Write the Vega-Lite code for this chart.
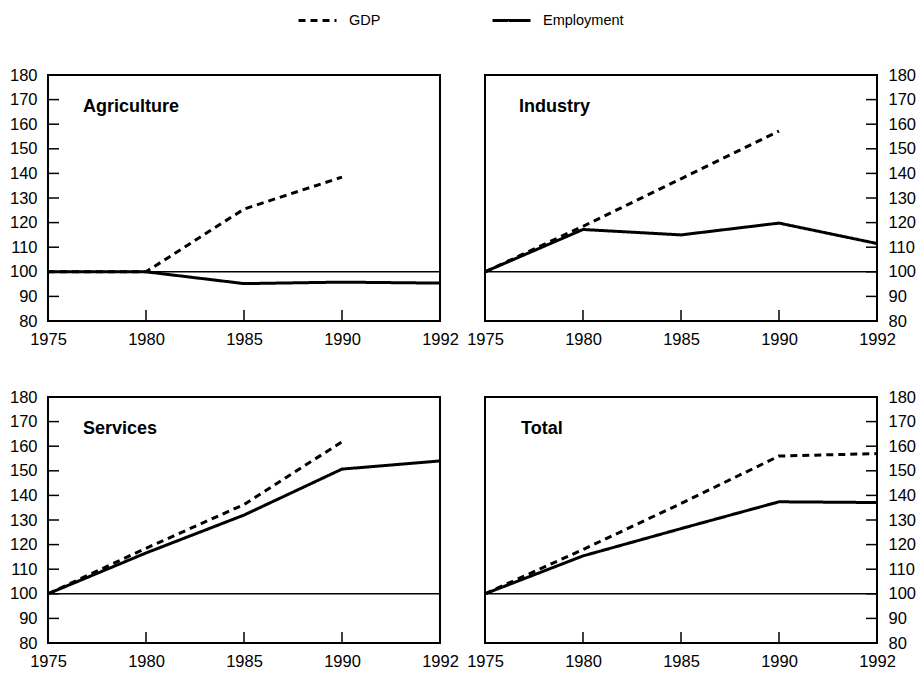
{
  "$schema": "https://vega.github.io/schema/vega-lite/v6.json",
  "padding": {"left": 8, "top": 0, "right": 5, "bottom": 2},
  "background": "white",
  "datasets": {"yticks": [{"v": 90}, {"v": 100}, {"v": 110}, {"v": 120}, {"v": 130}, {"v": 140}, {"v": 150}, {"v": 160}, {"v": 170}]},
  "data": {"values": [
    {"sector": "Agriculture", "series": "GDP", "year": 1975, "value": 100},
    {"sector": "Agriculture", "series": "GDP", "year": 1980, "value": 100},
    {"sector": "Agriculture", "series": "GDP", "year": 1985, "value": 125.5},
    {"sector": "Agriculture", "series": "GDP", "year": 1990, "value": 138.5},
    {"sector": "Agriculture", "series": "Employment", "year": 1975, "value": 100},
    {"sector": "Agriculture", "series": "Employment", "year": 1980, "value": 100},
    {"sector": "Agriculture", "series": "Employment", "year": 1985, "value": 95.2},
    {"sector": "Agriculture", "series": "Employment", "year": 1990, "value": 95.8},
    {"sector": "Agriculture", "series": "Employment", "year": 1992, "value": 95.4},
    {"sector": "Industry", "series": "GDP", "year": 1975, "value": 100},
    {"sector": "Industry", "series": "GDP", "year": 1980, "value": 118.5},
    {"sector": "Industry", "series": "GDP", "year": 1985, "value": 137.8},
    {"sector": "Industry", "series": "GDP", "year": 1990, "value": 157.2},
    {"sector": "Industry", "series": "Employment", "year": 1975, "value": 100},
    {"sector": "Industry", "series": "Employment", "year": 1980, "value": 117.2},
    {"sector": "Industry", "series": "Employment", "year": 1985, "value": 115},
    {"sector": "Industry", "series": "Employment", "year": 1990, "value": 119.8},
    {"sector": "Industry", "series": "Employment", "year": 1992, "value": 111.5},
    {"sector": "Services", "series": "GDP", "year": 1975, "value": 100},
    {"sector": "Services", "series": "GDP", "year": 1980, "value": 118.5},
    {"sector": "Services", "series": "GDP", "year": 1985, "value": 136.3},
    {"sector": "Services", "series": "GDP", "year": 1990, "value": 161.8},
    {"sector": "Services", "series": "Employment", "year": 1975, "value": 100},
    {"sector": "Services", "series": "Employment", "year": 1980, "value": 116.6},
    {"sector": "Services", "series": "Employment", "year": 1985, "value": 132},
    {"sector": "Services", "series": "Employment", "year": 1990, "value": 150.7},
    {"sector": "Services", "series": "Employment", "year": 1992, "value": 154},
    {"sector": "Total", "series": "GDP", "year": 1975, "value": 100},
    {"sector": "Total", "series": "GDP", "year": 1980, "value": 118},
    {"sector": "Total", "series": "GDP", "year": 1985, "value": 136.7},
    {"sector": "Total", "series": "GDP", "year": 1990, "value": 156},
    {"sector": "Total", "series": "GDP", "year": 1992, "value": 157},
    {"sector": "Total", "series": "Employment", "year": 1975, "value": 100},
    {"sector": "Total", "series": "Employment", "year": 1980, "value": 115.4},
    {"sector": "Total", "series": "Employment", "year": 1985, "value": 126.5},
    {"sector": "Total", "series": "Employment", "year": 1990, "value": 137.4},
    {"sector": "Total", "series": "Employment", "year": 1992, "value": 137.1}
  ]},
  "columns": 2,
  "spacing": {"row": 76, "column": 45},
  "bounds": "flush",
  "concat": [
    {
      "width": 392, "height": 246,
      "layer": [
        {"transform": [{"filter": "datum.sector === 'Agriculture'"}],
         "mark": {"type": "line", "color": "black", "strokeWidth": 3},
         "encoding": {
           "x": {"field": "year", "type": "ordinal", "scale": {"type": "point", "padding": 0}, "axis": {"orient": "bottom"}},
           "y": {"field": "value", "type": "quantitative", "scale": {"domain": [80, 180], "zero": false}, "axis": {"orient": "left", "values": [80, 90, 100, 110, 120, 130, 140, 150, 160, 170, 180]}},
           "strokeDash": {"field": "series", "type": "nominal", "scale": {"domain": ["GDP", "Employment"], "range": [[7, 5], [1, 0]]}, "legend": {"title": null}}
         }},
        {"data": {"values": [{}]}, "mark": {"type": "rule", "color": "black", "strokeWidth": 1.5},
         "encoding": {"y": {"datum": 100, "type": "quantitative", "axis": {"orient": "left", "values": [80, 90, 100, 110, 120, 130, 140, 150, 160, 170, 180]}}}},
        {"transform": [{"filter": "datum.sector === 'Agriculture' && datum.series === 'Employment'"}],
         "mark": {"type": "rule", "color": "black", "strokeWidth": 1.5, "y2Offset": -11},
         "encoding": {"x": {"field": "year", "type": "ordinal", "axis": {"orient": "bottom"}}, "y": {"datum": 80, "type": "quantitative", "axis": {"orient": "left", "values": [80, 90, 100, 110, 120, 130, 140, 150, 160, 170, 180]}}, "y2": {"datum": 80}}},
        {"data": {"name": "yticks"},
         "mark": {"type": "rule", "color": "black", "strokeWidth": 1.5, "x2Offset": 11},
         "encoding": {"x": {"datum": 1975, "type": "ordinal", "axis": {"orient": "bottom"}}, "x2": {"datum": 1975}, "y": {"field": "v", "type": "quantitative", "axis": {"orient": "left", "values": [80, 90, 100, 110, 120, 130, 140, 150, 160, 170, 180]}}}},
        {"data": {"values": [{}]}, "mark": {"type": "text", "align": "left", "baseline": "middle", "dx": 35, "fontSize": 18, "fontWeight": "bold", "font": "Liberation Sans", "color": "black", "text": "Agriculture"},
         "encoding": {"x": {"datum": 1975, "type": "ordinal", "axis": {"orient": "bottom"}}, "y": {"datum": 167, "type": "quantitative", "axis": {"orient": "left", "values": [80, 90, 100, 110, 120, 130, 140, 150, 160, 170, 180]}}}}
      ]
    },
    {
      "width": 392, "height": 246,
      "layer": [
        {"transform": [{"filter": "datum.sector === 'Industry'"}],
         "mark": {"type": "line", "color": "black", "strokeWidth": 3},
         "encoding": {
           "x": {"field": "year", "type": "ordinal", "scale": {"type": "point", "padding": 0}, "axis": {"orient": "bottom"}},
           "y": {"field": "value", "type": "quantitative", "scale": {"domain": [80, 180], "zero": false}, "axis": {"orient": "right", "labelAlign": "left", "values": [80, 90, 100, 110, 120, 130, 140, 150, 160, 170, 180]}},
           "strokeDash": {"field": "series", "type": "nominal", "scale": {"domain": ["GDP", "Employment"], "range": [[7, 5], [1, 0]]}, "legend": {"title": null}}
         }},
        {"data": {"values": [{}]}, "mark": {"type": "rule", "color": "black", "strokeWidth": 1.5},
         "encoding": {"y": {"datum": 100, "type": "quantitative", "axis": {"orient": "right", "labelAlign": "left", "values": [80, 90, 100, 110, 120, 130, 140, 150, 160, 170, 180]}}}},
        {"transform": [{"filter": "datum.sector === 'Industry' && datum.series === 'Employment'"}],
         "mark": {"type": "rule", "color": "black", "strokeWidth": 1.5, "y2Offset": -11},
         "encoding": {"x": {"field": "year", "type": "ordinal", "axis": {"orient": "bottom"}}, "y": {"datum": 80, "type": "quantitative", "axis": {"orient": "right", "labelAlign": "left", "values": [80, 90, 100, 110, 120, 130, 140, 150, 160, 170, 180]}}, "y2": {"datum": 80}}},
        {"data": {"name": "yticks"},
         "mark": {"type": "rule", "color": "black", "strokeWidth": 1.5, "x2Offset": -11},
         "encoding": {"x": {"datum": 1992, "type": "ordinal", "axis": {"orient": "bottom"}}, "x2": {"datum": 1992}, "y": {"field": "v", "type": "quantitative", "axis": {"orient": "right", "labelAlign": "left", "values": [80, 90, 100, 110, 120, 130, 140, 150, 160, 170, 180]}}}},
        {"data": {"values": [{}]}, "mark": {"type": "text", "align": "left", "baseline": "middle", "dx": 34, "fontSize": 18, "fontWeight": "bold", "font": "Liberation Sans", "color": "black", "text": "Industry"},
         "encoding": {"x": {"datum": 1975, "type": "ordinal", "axis": {"orient": "bottom"}}, "y": {"datum": 167, "type": "quantitative", "axis": {"orient": "right", "labelAlign": "left", "values": [80, 90, 100, 110, 120, 130, 140, 150, 160, 170, 180]}}}}
      ]
    },
    {
      "width": 392, "height": 246,
      "layer": [
        {"transform": [{"filter": "datum.sector === 'Services'"}],
         "mark": {"type": "line", "color": "black", "strokeWidth": 3},
         "encoding": {
           "x": {"field": "year", "type": "ordinal", "scale": {"type": "point", "padding": 0}, "axis": {"orient": "bottom"}},
           "y": {"field": "value", "type": "quantitative", "scale": {"domain": [80, 180], "zero": false}, "axis": {"orient": "left", "values": [80, 90, 100, 110, 120, 130, 140, 150, 160, 170, 180]}},
           "strokeDash": {"field": "series", "type": "nominal", "scale": {"domain": ["GDP", "Employment"], "range": [[7, 5], [1, 0]]}, "legend": {"title": null}}
         }},
        {"data": {"values": [{}]}, "mark": {"type": "rule", "color": "black", "strokeWidth": 1.5},
         "encoding": {"y": {"datum": 100, "type": "quantitative", "axis": {"orient": "left", "values": [80, 90, 100, 110, 120, 130, 140, 150, 160, 170, 180]}}}},
        {"transform": [{"filter": "datum.sector === 'Services' && datum.series === 'Employment'"}],
         "mark": {"type": "rule", "color": "black", "strokeWidth": 1.5, "y2Offset": -11},
         "encoding": {"x": {"field": "year", "type": "ordinal", "axis": {"orient": "bottom"}}, "y": {"datum": 80, "type": "quantitative", "axis": {"orient": "left", "values": [80, 90, 100, 110, 120, 130, 140, 150, 160, 170, 180]}}, "y2": {"datum": 80}}},
        {"data": {"name": "yticks"},
         "mark": {"type": "rule", "color": "black", "strokeWidth": 1.5, "x2Offset": 11},
         "encoding": {"x": {"datum": 1975, "type": "ordinal", "axis": {"orient": "bottom"}}, "x2": {"datum": 1975}, "y": {"field": "v", "type": "quantitative", "axis": {"orient": "left", "values": [80, 90, 100, 110, 120, 130, 140, 150, 160, 170, 180]}}}},
        {"data": {"values": [{}]}, "mark": {"type": "text", "align": "left", "baseline": "middle", "dx": 35, "fontSize": 18, "fontWeight": "bold", "font": "Liberation Sans", "color": "black", "text": "Services"},
         "encoding": {"x": {"datum": 1975, "type": "ordinal", "axis": {"orient": "bottom"}}, "y": {"datum": 167, "type": "quantitative", "axis": {"orient": "left", "values": [80, 90, 100, 110, 120, 130, 140, 150, 160, 170, 180]}}}}
      ]
    },
    {
      "width": 392, "height": 246,
      "layer": [
        {"transform": [{"filter": "datum.sector === 'Total'"}],
         "mark": {"type": "line", "color": "black", "strokeWidth": 3},
         "encoding": {
           "x": {"field": "year", "type": "ordinal", "scale": {"type": "point", "padding": 0}, "axis": {"orient": "bottom"}},
           "y": {"field": "value", "type": "quantitative", "scale": {"domain": [80, 180], "zero": false}, "axis": {"orient": "right", "labelAlign": "left", "values": [80, 90, 100, 110, 120, 130, 140, 150, 160, 170, 180]}},
           "strokeDash": {"field": "series", "type": "nominal", "scale": {"domain": ["GDP", "Employment"], "range": [[7, 5], [1, 0]]}, "legend": {"title": null}}
         }},
        {"data": {"values": [{}]}, "mark": {"type": "rule", "color": "black", "strokeWidth": 1.5},
         "encoding": {"y": {"datum": 100, "type": "quantitative", "axis": {"orient": "right", "labelAlign": "left", "values": [80, 90, 100, 110, 120, 130, 140, 150, 160, 170, 180]}}}},
        {"transform": [{"filter": "datum.sector === 'Total' && datum.series === 'Employment'"}],
         "mark": {"type": "rule", "color": "black", "strokeWidth": 1.5, "y2Offset": -11},
         "encoding": {"x": {"field": "year", "type": "ordinal", "axis": {"orient": "bottom"}}, "y": {"datum": 80, "type": "quantitative", "axis": {"orient": "right", "labelAlign": "left", "values": [80, 90, 100, 110, 120, 130, 140, 150, 160, 170, 180]}}, "y2": {"datum": 80}}},
        {"data": {"name": "yticks"},
         "mark": {"type": "rule", "color": "black", "strokeWidth": 1.5, "x2Offset": -11},
         "encoding": {"x": {"datum": 1992, "type": "ordinal", "axis": {"orient": "bottom"}}, "x2": {"datum": 1992}, "y": {"field": "v", "type": "quantitative", "axis": {"orient": "right", "labelAlign": "left", "values": [80, 90, 100, 110, 120, 130, 140, 150, 160, 170, 180]}}}},
        {"data": {"values": [{}]}, "mark": {"type": "text", "align": "left", "baseline": "middle", "dx": 36, "fontSize": 18, "fontWeight": "bold", "font": "Liberation Sans", "color": "black", "text": "Total"},
         "encoding": {"x": {"datum": 1975, "type": "ordinal", "axis": {"orient": "bottom"}}, "y": {"datum": 167, "type": "quantitative", "axis": {"orient": "right", "labelAlign": "left", "values": [80, 90, 100, 110, 120, 130, 140, 150, 160, 170, 180]}}}}
      ]
    }
  ],
  "resolve": {"legend": {"strokeDash": "shared"}},
  "config": {
    "font": "Liberation Sans",
    "view": {"stroke": "black", "strokeWidth": 2},
    "axis": {
      "title": null,
      "grid": false,
      "domain": false,
      "ticks": false,
      "labelPadding": 10,
      "labelFontSize": 16.5,
      "labelColor": "black",
      "labelFont": "Liberation Sans",
      "labelFlush": false,
      "labelOverlap": false,
      "labelAngle": 0
    },
    "axisY": {"labelPadding": 11},
    "legend": {
      "orient": "none",
      "legendX": 249,
      "legendY": -75,
      "direction": "horizontal",
      "symbolType": "stroke",
      "symbolSize": 1444,
      "symbolStrokeWidth": 3,
      "symbolStrokeColor": "black",
      "labelFontSize": 14.5,
      "labelOffset": 11,
      "labelColor": "black",
      "columnPadding": 105
    }
  }
}
